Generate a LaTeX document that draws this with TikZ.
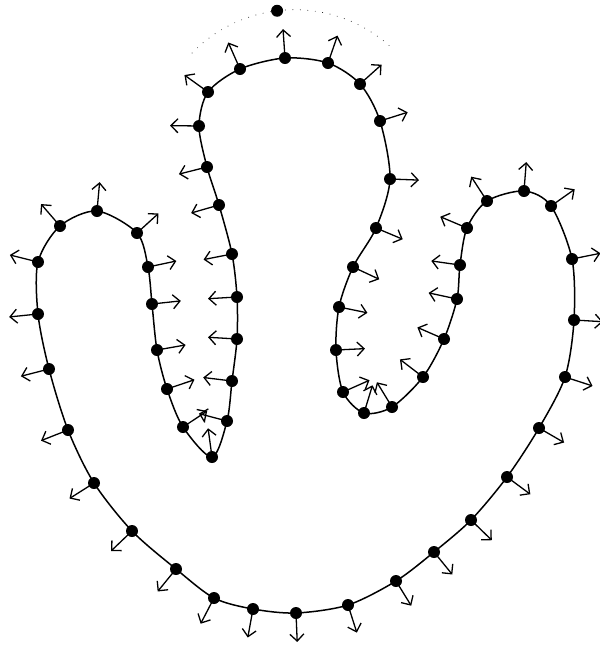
\documentclass[tikz,border=0pt]{standalone}
\usetikzlibrary{calc,arrows.meta}

\begin{document}
\begin{tikzpicture}[x=1pt, y=-1pt,
    curve/.style={line width=1.5pt},
    sample/.style={circle, fill=black, inner sep=0pt, minimum size=12pt},
    normal/.style={-{Straight Barb[length=7pt, width=14pt]}, line width=1.3pt},
    track/.style={line width=0.9pt, line cap=round, dash pattern=on 0pt off 7.5pt}
]
\useasboundingbox (0,0) rectangle (600,646);

% sample points, clockwise from the top
\def\curvepath{}
\foreach \x/\y [count=\i] in {285/58, 328/63, 360/84, 380/121, 390/179, 376/228,
    353/267, 339/307, 336/350, 343/392, 364/413, 392/407, 423/377, 444/339,
    457/299, 460/265, 467/228, 487/201, 524/191, 551/206, 572/259, 574/320,
    565/377, 539/428, 507/477, 471/520, 434/552, 396/581, 348/605, 296/613,
    253/609, 214/598, 176/569, 132/531, 94/483, 68/430, 49/369, 38/314,
    38/262, 60/226, 97/211, 137/233, 148/267, 152/304, 157/350, 167/389,
    183/427, 212/457, 227/421, 232/381, 237/339, 237/297, 232/254, 219/205,
    207/167, 199/126, 208/92, 240/69} {
    \coordinate (p\i) at (\x,\y);
    \xdef\curvepath{\curvepath (p\i)}
}

% the closed curve
\edef\drawcurve{\noexpand\draw[curve] plot[smooth cycle] coordinates {\curvepath};}
\drawcurve

% outward normals
\foreach \i in {1,...,58} {
    \pgfmathtruncatemacro{\prv}{mod(\i+56,58)+1}
    \pgfmathtruncatemacro{\nxt}{mod(\i,58)+1}
    \coordinate (t\i) at ($(p\prv)!29pt!90:(p\nxt)$);
    \coordinate (n\i) at ($(p\i)+(t\i)-(p\prv)$);
    \draw[normal] (p\i) -- (n\i);
}

% dots on the curve
\foreach \i in {1,...,58} {
    \node[sample] (d\i) at (p\i) {};
}

% dotted arc with the moved point
\coordinate (c) at (294.5,152.5);
\draw[track] ($(c)+(135.8:142.8pt)$) arc[start angle=135.8, end angle=45.8, radius=142.8pt];
\node[sample] (top) at ($(c)+(97:142.8pt)$) {};

\end{tikzpicture}
\end{document}
